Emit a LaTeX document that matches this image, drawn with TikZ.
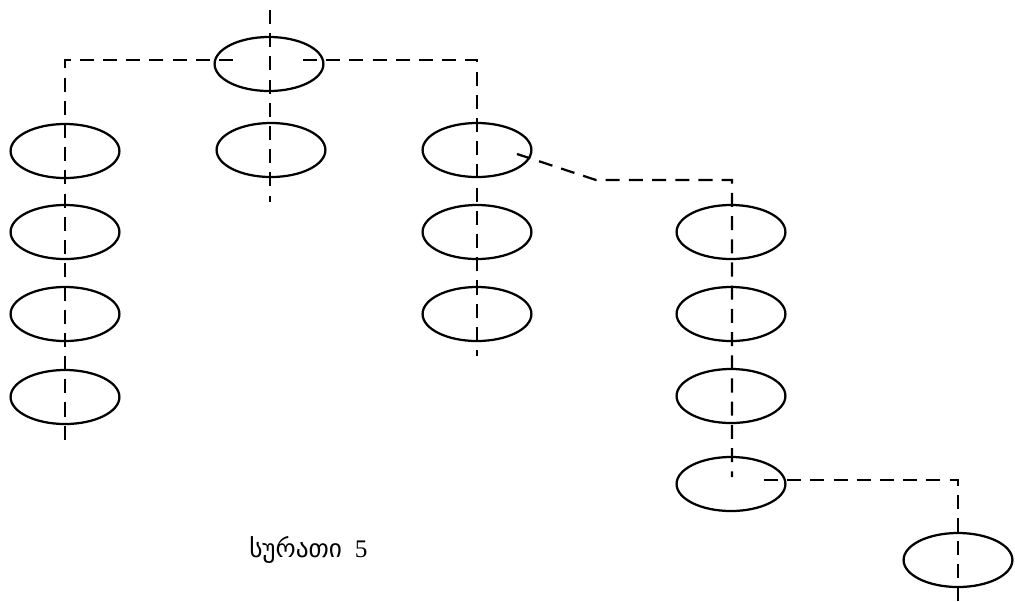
\documentclass[tikz,border=0pt]{standalone}
\usepackage{fontspec}
\setmainfont{Liberation Serif}
\newfontfamily\geofont{DejaVu Sans}
\usetikzlibrary{shapes.geometric}
\tikzset{
  oval/.style={draw, ellipse, line width=1.6pt, minimum width=2.72cm, minimum height=1.35cm, inner sep=0pt},
  link/.style={line width=1.6pt, dash pattern=on 10pt off 6.5pt},
}
\begin{document}
\begin{tikzpicture}[x=0.025cm, y=-0.025cm]
    \useasboundingbox (0,0) rectangle (1015,601);
    % Root and its own column
    \node [oval] (root) at (269,64) {};
    \node [oval] (mid1) at (271,150) {};
    \coordinate (midtop) at (270,10);
    \coordinate (midend) at (270,202);
    \draw [link] (midtop) -- (midend);

    % Left column
    \node [oval] (left1) at (65,151) {};
    \node [oval] (left2) at (65,232) {};
    \node [oval] (left3) at (65,314) {};
    \node [oval] (left4) at (65,397) {};
    \coordinate (rootw) at (233,60);
    \coordinate (leftcorner) at (65,60);
    \coordinate (leftend) at (65,448);
    \draw [link] (rootw) -- (leftcorner) -- (leftend);

    % Right column
    \node [oval] (right1) at (477,150) {};
    \node [oval] (right2) at (477,232) {};
    \node [oval] (right3) at (477,314) {};
    \coordinate (roote) at (303,60);
    \coordinate (rightcorner) at (477,60);
    \coordinate (rightend) at (477,356);
    \draw [link] (roote) -- (rightcorner) -- (rightend);

    % Branch column
    \node [oval] (sub1) at (731,232) {};
    \node [oval] (sub2) at (731,314) {};
    \node [oval] (sub3) at (731,396) {};
    \node [oval] (sub4) at (731,484) {};
    \coordinate (right1out) at (517,154);
    \coordinate (bend) at (596,180);
    \coordinate (subcorner) at (732,180);
    \coordinate (subend) at (732,477);
    \draw [link] (right1out) -- (bend) -- (subcorner) -- (subend);

    % Last leaf
    \node [oval] (leaf) at (958,560) {};
    \coordinate (sub4out) at (764,480);
    \coordinate (leafcorner) at (958,480);
    \coordinate (leafend) at (958,601);
    \draw [link] (sub4out) -- (leafcorner) -- (leafend);

    % Caption
    \node [anchor=base west, inner sep=0pt, font=\fontsize{18}{20}\selectfont] (caption) at (249,557) {{\geofont სურათი}\ \ 5};
\end{tikzpicture}
\end{document}
